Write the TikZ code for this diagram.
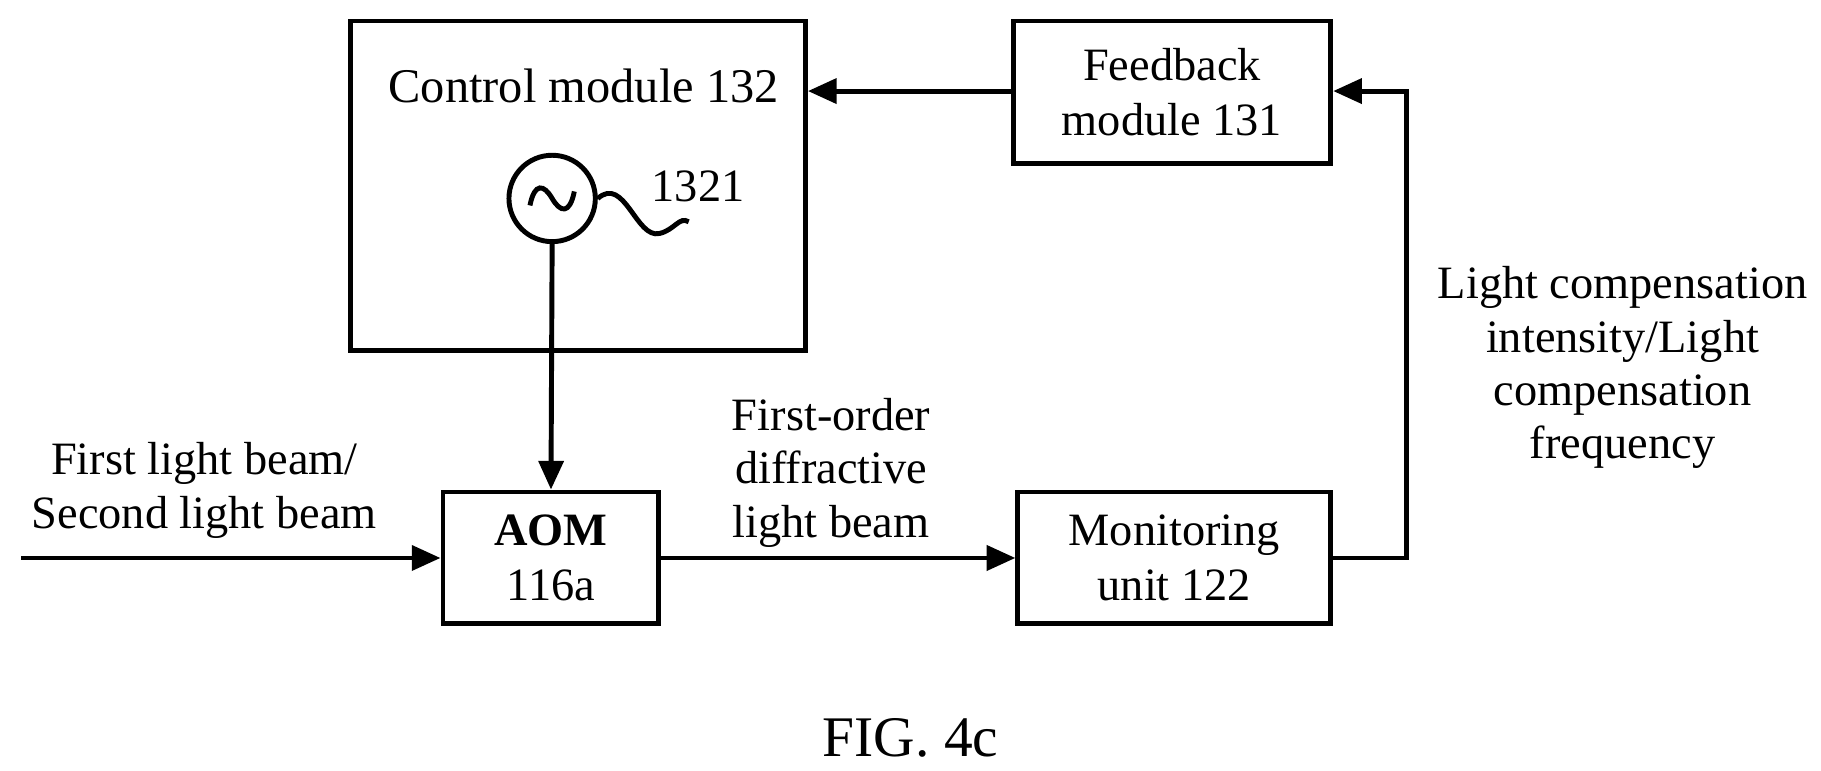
\documentclass[tikz,border=0pt]{standalone}
\usepackage{fontspec}
\setmainfont{Liberation Serif}
\usetikzlibrary{arrows.meta}
\begin{document}
\begin{tikzpicture}[x=0.1mm,y=-0.1mm,
  box/.style={draw,line width=1.2pt,align=center,font=\fontsize{11.3}{13.5}\selectfont},
  lbl/.style={align=center,font=\fontsize{11.3}{13}\selectfont},
  arr/.style={line width=1.2pt,-{Triangle[length=7pt,width=6pt]}},
  ln/.style={line width=1.2pt}]
\useasboundingbox (0,0) rectangle (1560,660);
\node[box,minimum width=390*0.1mm,minimum height=282*0.1mm] (ctrl) at (495,159) {};
\node[lbl,font=\fontsize{11.8}{14}\selectfont] (ctrlt) at (500,74) {Control module 132};
\node[box,minimum width=272*0.1mm,minimum height=122*0.1mm] (fb) at (1004,79) {Feedback\\module 131};
\node[draw,circle,line width=1.2pt,minimum size=74*0.1mm] (osc) at (473,170) {};
\draw[ln] (454,176) .. controls (458,156) and (466,158) .. (473,170) .. controls (480,182) and (488,184) .. (492,164);
\draw[ln] (osc.east) .. controls (535,150) and (545,205) .. (565,200) .. controls (578,197) and (582,185) .. (590,190);
\node[lbl] (n1321) at (598,160) {1321};
\node[box,minimum width=185*0.1mm,minimum height=113*0.1mm] (aom) at (472,478) {\textbf{AOM}\\116a};
\node[box,minimum width=268*0.1mm,minimum height=113*0.1mm] (mon) at (1006,478) {Monitoring\\unit 122};
\coordinate (in) at (18,478);
\coordinate (c1) at (1205,478);
\coordinate (c2) at (1205,78);
\draw[arr] (osc.south) -- (aom.north);
\draw[arr] (in) -- (aom.west);
\draw[arr] (aom.east) -- (mon.west);
\draw[arr] (mon.east) -- (c1) -- (c2) -- (fb.east|-c2);
\draw[arr] (fb.west|-c2) -- (ctrl.east|-c2);
\node[lbl] (l1) at (175,420) {First light beam/\\Second light beam};
\node[lbl] (l2) at (712,405) {First-order\\diffractive\\light beam};
\node[lbl] (l3) at (1390,315) {Light compensation\\intensity/Light\\compensation\\frequency};
\node[lbl,font=\fontsize{14}{17}\selectfont] (fig) at (780,632) {FIG. 4c};
\end{tikzpicture}
\end{document}
